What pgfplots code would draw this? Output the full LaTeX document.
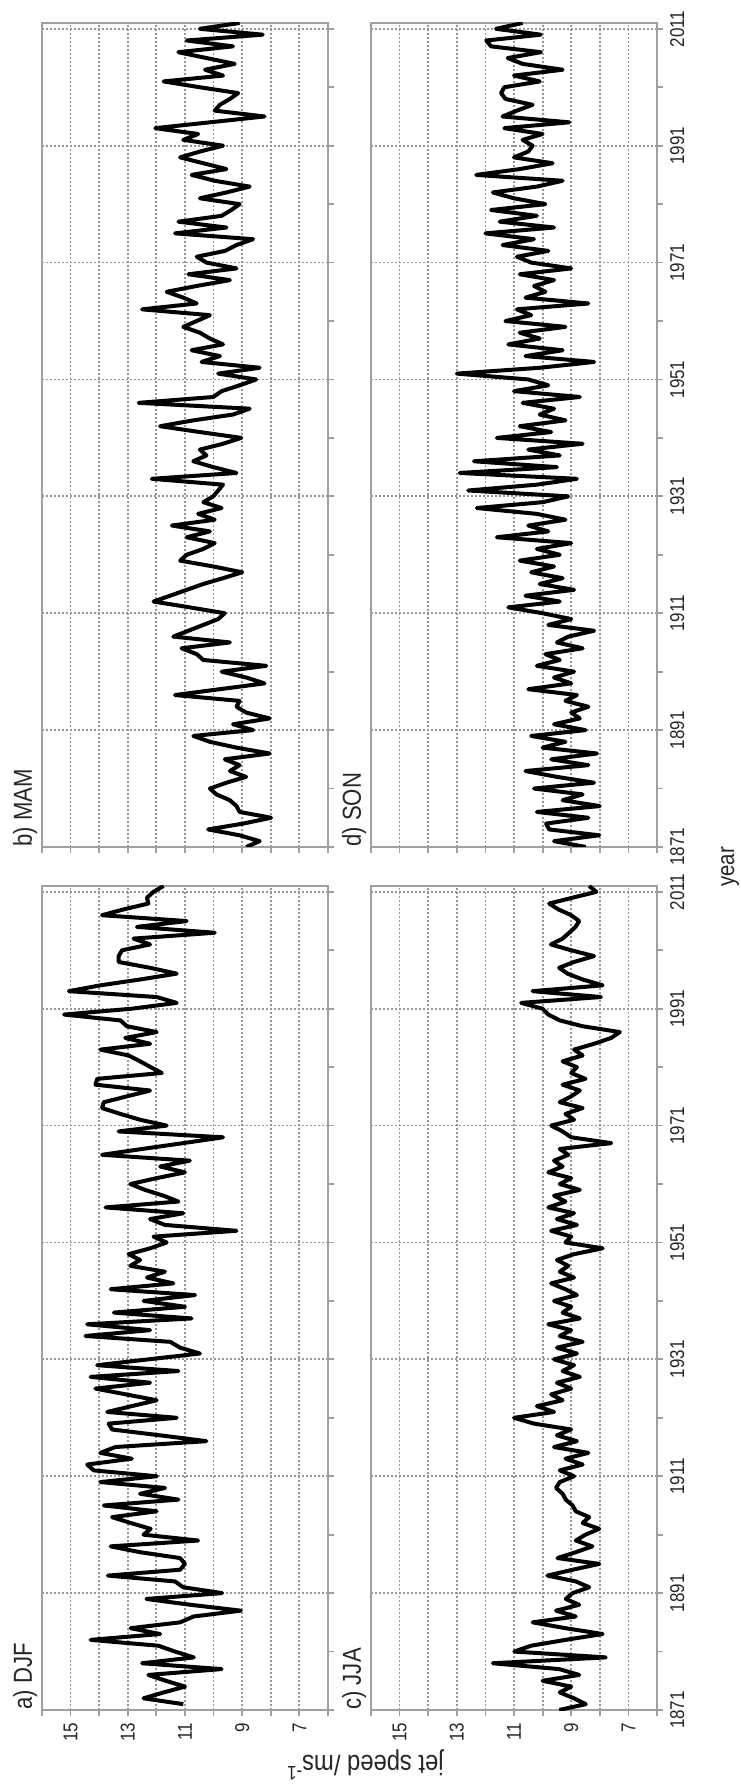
\documentclass[border=0pt]{standalone}
\usepackage{graphicx}
\usepackage{fontspec}
\setmainfont{Liberation Sans}[FakeStretch=0.85]
\usepackage{pgfplots}
\pgfplotsset{compat=1.18}
\definecolor{axgray}{RGB}{160,160,160}
\definecolor{gridgray}{RGB}{150,150,150}
\pgfplotsset{
  jet/.style={
    scale only axis, width=412pt, height=143pt,
    anchor=south west,
    xmin=1871, xmax=2012, ymin=6, ymax=16,
    xtick={1871,1891,...,2011}, minor xtick={1881,1901,...,2001},
    ytick={7,9,11,13,15}, minor ytick={6,8,...,16},
    xmajorgrids, ymajorgrids, yminorgrids,
    major grid style={gridgray, line width=0.9pt, dash pattern=on 0.9pt off 1.1pt},
    minor grid style={gridgray, line width=0.9pt, dash pattern=on 0.9pt off 1.1pt},
    axis line style={axgray, line width=1.1pt},
    tick style={axgray, line width=0.9pt},
    major tick length=3pt, minor tick length=3pt,
    tick align=outside, xtick pos=left, ytick pos=left,
    /pgf/number format/1000 sep={},
    /pgf/number format/assume math mode=true,
    tick label style={font=\fontsize{10}{12}\selectfont, text=black!85},
  },
  mean/.style={black, line width=2pt, line join=round, mark=none},
}
\begin{document}
\rotatebox{90}{%
\begin{tikzpicture}
\useasboundingbox (0,0) rectangle (893.5pt,370pt);
% a) DJF
\begin{axis}[jet, name=pa, at={(38.5pt,206pt)}, xticklabels={}]
\addplot[mean] coordinates {
(1872,11.06)(1873,12.45)(1874,11.75)(1875,11.0)(1876,11.67)(1877,12.28)(1878,9.72)(1879,12.5)(1880,10.69)(1881,11.35)
(1882,11.93)(1883,14.3)(1884,11.87)(1885,12.9)(1886,11.17)(1887,10.7)(1888,9.05)(1889,10.8)(1890,12.35)(1891,9.7)
(1892,11.06)(1893,11.35)(1894,13.7)(1895,11.17)(1896,11.0)(1897,11.17)(1898,12.57)(1899,13.6)(1900,10.54)(1901,12.45)
(1902,12.2)(1903,12.9)(1904,13.55)(1905,11.99)(1906,13.84)(1907,11.23)(1908,12.57)(1909,11.7)(1910,13.96)(1911,11.99)
(1912,14.19)(1913,14.42)(1914,12.86)(1915,13.96)(1916,13.43)(1917,10.25)(1918,11.87)(1919,13.55)(1920,13.67)(1921,11.29)
(1922,13.72)(1923,12.86)(1924,11.99)(1925,13.06)(1926,14.13)(1927,12.22)(1928,14.3)(1929,11.23)(1930,14.07)(1931,12.28)
(1932,10.48)(1933,11.17)(1934,11.52)(1935,14.48)(1936,12.22)(1937,14.42)(1938,10.77)(1939,13.49)(1940,11.0)(1941,12.45)
(1942,10.65)(1943,13.6)(1944,11.41)(1945,12.33)(1946,11.7)(1947,12.91)(1948,12.57)(1949,12.97)(1950,12.22)(1951,11.64)
(1952,12.1)(1953,9.2)(1954,11.7)(1955,12.22)(1956,11.06)(1957,13.78)(1958,11.23)(1959,11.75)(1960,12.4)(1961,12.91)
(1962,12.0)(1963,11.0)(1964,11.87)(1965,10.83)(1966,13.9)(1967,12.5)(1968,11.06)(1969,9.67)(1970,13.32)(1971,11.64)
(1972,12.57)(1973,13.26)(1974,13.9)(1975,13.84)(1976,13.03)(1977,12.22)(1978,14.13)(1979,14.07)(1980,11.81)(1981,12.2)
(1982,12.57)(1983,12.97)(1984,13.96)(1985,12.22)(1986,13.09)(1987,11.99)(1988,13.03)(1989,13.26)(1990,15.23)(1991,12.86)
(1992,11.29)(1993,11.99)(1994,15.06)(1995,13.96)(1996,12.57)(1997,11.29)(1998,12.22)(1999,13.32)(2000,13.32)(2001,13.2)
(2002,12.22)(2003,12.8)(2004,9.96)(2005,12.68)(2006,10.94)(2007,13.9)(2008,13.14)(2009,12.28)(2010,12.33)(2011,12.1)
(2012,11.75)
};
\end{axis}
% b) MAM
\begin{axis}[jet, name=pb, at={(470pt,206pt)}, xticklabels={}, yticklabels={}]
\addplot[mean] coordinates {
(1871,8.86)(1872,8.39)(1873,9.09)(1874,10.19)(1875,8.97)(1876,7.99)(1877,9.09)(1878,9.2)(1879,9.43)(1880,9.9)
(1881,10.13)(1882,9.55)(1883,8.86)(1884,9.43)(1885,9.09)(1886,9.61)(1887,8.04)(1888,9.2)(1889,10.13)(1890,10.71)
(1891,8.62)(1892,9.32)(1893,8.04)(1894,8.86)(1895,9.2)(1896,9.09)(1897,11.35)(1898,9.78)(1899,8.22)(1900,8.86)
(1901,9.72)(1902,8.16)(1903,10.36)(1904,10.59)(1905,11.12)(1906,9.43)(1907,11.41)(1908,10.88)(1909,10.36)(1910,9.84)
(1911,9.61)(1912,10.83)(1913,12.1)(1914,11.52)(1915,10.94)(1916,10.36)(1917,9.67)(1918,9.0)(1919,10.01)(1920,11.17)
(1921,10.94)(1922,10.36)(1923,9.96)(1924,10.94)(1925,10.13)(1926,11.46)(1927,9.96)(1928,10.54)(1929,9.72)(1930,10.36)
(1931,10.01)(1932,9.84)(1933,9.67)(1934,12.16)(1935,9.2)(1936,10.01)(1937,10.71)(1938,10.25)(1939,10.48)(1940,9.67)
(1941,9.03)(1942,10.48)(1943,11.87)(1944,10.71)(1945,9.32)(1946,8.74)(1947,12.62)(1948,10.01)(1949,9.72)(1950,9.09)
(1951,8.51)(1952,9.84)(1953,8.39)(1954,10.42)(1955,9.78)(1956,10.77)(1957,9.67)(1958,10.13)(1959,10.48)(1960,11.06)
(1961,10.59)(1962,10.13)(1963,12.5)(1964,10.59)(1965,11.06)(1966,11.64)(1967,10.59)(1968,9.43)(1969,10.88)(1970,9.2)
(1971,10.25)(1972,10.59)(1973,9.6)(1974,9.2)(1975,8.62)(1976,11.35)(1977,9.55)(1978,11.23)(1979,9.72)(1980,9.38)
(1981,9.09)(1982,10.48)(1983,9.55)(1984,8.74)(1985,9.96)(1986,10.77)(1987,9.55)(1988,10.36)(1989,11.17)(1990,10.48)
(1991,9.67)(1992,11.06)(1993,10.54)(1994,12.04)(1995,10.13)(1996,8.22)(1997,9.96)(1998,9.78)(1999,9.43)(2000,9.14)
(2001,10.48)(2002,11.75)(2003,9.67)(2004,10.3)(2005,9.26)(2006,10.25)(2007,11.23)(2008,9.32)(2009,10.94)(2010,8.28)
(2011,10.48)(2012,9.09)
};
\end{axis}
% c) JJA
\begin{axis}[jet, name=pc, at={(38.5pt,41.5pt)}]
\addplot[mean] coordinates {
(1871,9.42)(1872,8.49)(1873,8.9)(1874,9.4)(1875,9.0)(1876,10.0)(1877,8.72)(1878,9.42)(1879,11.74)(1880,7.79)
(1881,10.99)(1882,10.4)(1883,9.2)(1884,7.9)(1885,9.2)(1886,10.35)(1887,8.84)(1888,9.53)(1889,8.72)(1890,9.19)
(1891,8.95)(1892,8.37)(1893,8.84)(1894,9.83)(1895,8.95)(1896,8.02)(1897,9.48)(1898,8.84)(1899,8.26)(1900,8.84)
(1901,8.5)(1902,8.02)(1903,8.6)(1904,8.37)(1905,8.84)(1906,8.95)(1907,9.19)(1908,9.3)(1909,9.53)(1910,9.4)
(1911,8.9)(1912,9.4)(1913,8.6)(1914,9.2)(1915,8.4)(1916,9.6)(1917,8.8)(1918,9.5)(1919,9.0)(1920,10.3)
(1921,11.0)(1922,9.6)(1923,10.2)(1924,9.3)(1925,9.7)(1926,9.0)(1927,9.5)(1928,8.7)(1929,9.3)(1930,8.9)
(1931,9.6)(1932,8.8)(1933,9.5)(1934,8.6)(1935,9.4)(1936,9.0)(1937,9.8)(1938,8.7)(1939,9.3)(1940,9.0)
(1941,9.6)(1942,8.8)(1943,9.2)(1944,9.7)(1945,8.9)(1946,9.4)(1947,9.1)(1948,9.5)(1949,8.9)(1950,7.9)
(1951,9.2)(1952,9.0)(1953,9.7)(1954,8.8)(1955,9.5)(1956,8.9)(1957,9.8)(1958,9.2)(1959,9.6)(1960,8.7)
(1961,9.4)(1962,9.0)(1963,9.8)(1964,9.3)(1965,9.6)(1966,9.1)(1967,9.4)(1968,7.6)(1969,9.0)(1970,9.3)
(1971,9.7)(1972,8.9)(1973,9.2)(1974,8.6)(1975,9.4)(1976,9.0)(1977,8.7)(1978,9.3)(1979,8.5)(1980,9.0)
(1981,8.8)(1982,9.3)(1983,8.6)(1984,8.9)(1985,8.2)(1986,7.6)(1987,7.3)(1988,8.6)(1989,9.4)(1990,9.8)
(1991,10.0)(1992,10.75)(1993,7.96)(1994,10.35)(1995,7.9)(1996,8.6)(1997,9.13)(1998,9.42)(1999,8.9)(2000,8.2)
(2001,9.0)(2002,9.71)(2003,9.3)(2004,9.07)(2005,8.85)(2006,8.72)(2007,9.0)(2008,9.45)(2009,9.77)(2010,8.95)
(2011,8.12)(2012,8.37)
};
\end{axis}
% d) SON
\begin{axis}[jet, name=pd, at={(470pt,41.5pt)}, yticklabels={}]
\addplot[mean] coordinates {
(1871,8.49)(1872,9.6)(1873,8.02)(1874,9.77)(1875,9.88)(1876,8.4)(1877,10.2)(1878,8.0)(1879,9.3)(1880,8.6)
(1881,10.3)(1882,8.2)(1883,9.5)(1884,10.6)(1885,8.4)(1886,9.7)(1887,8.1)(1888,10.0)(1889,9.2)(1890,10.4)
(1891,8.5)(1892,9.6)(1893,8.7)(1894,9.0)(1895,8.4)(1896,9.2)(1897,8.8)(1898,10.5)(1899,9.0)(1900,9.6)
(1901,8.9)(1902,10.2)(1903,9.4)(1904,9.9)(1905,8.6)(1906,9.5)(1907,9.1)(1908,8.2)(1909,9.8)(1910,9.0)
(1911,10.0)(1912,11.2)(1913,9.4)(1914,10.6)(1915,8.9)(1916,10.1)(1917,9.3)(1918,10.4)(1919,9.6)(1920,10.8)
(1921,9.4)(1922,10.2)(1923,9.0)(1924,11.6)(1925,9.8)(1926,10.5)(1927,9.2)(1928,10.2)(1929,12.3)(1930,10.0)
(1931,9.1)(1932,12.6)(1933,10.2)(1934,8.8)(1935,12.9)(1936,9.5)(1937,12.4)(1938,9.4)(1939,10.5)(1940,8.6)
(1941,11.6)(1942,9.7)(1943,10.8)(1944,9.2)(1945,10.1)(1946,9.6)(1947,10.7)(1948,8.7)(1949,11.0)(1950,9.8)
(1951,10.5)(1952,13.0)(1953,10.1)(1954,8.2)(1955,10.6)(1956,9.3)(1957,11.2)(1958,10.1)(1959,10.8)(1960,9.2)
(1961,11.3)(1962,10.4)(1963,10.9)(1964,8.4)(1965,10.6)(1966,9.9)(1967,10.3)(1968,9.6)(1969,10.8)(1970,9.0)
(1971,10.4)(1972,10.9)(1973,9.8)(1974,11.4)(1975,10.3)(1976,12.0)(1977,9.6)(1978,11.5)(1979,10.2)(1980,11.8)
(1981,9.9)(1982,11.0)(1983,11.74)(1984,10.2)(1985,9.3)(1986,12.32)(1987,10.8)(1988,9.65)(1989,11.0)(1990,10.5)
(1991,10.35)(1992,10.7)(1993,10.0)(1994,11.34)(1995,9.07)(1996,11.4)(1997,10.9)(1998,10.35)(1999,11.3)(2000,11.45)
(2001,11.34)(2002,10.1)(2003,11.0)(2004,9.3)(2005,10.7)(2006,11.22)(2007,10.06)(2008,11.8)(2009,11.97)(2010,10.06)
(2011,11.63)(2012,10.7)
};
\end{axis}
\foreach \p/\t in {pa/a) DJF, pb/b) MAM, pc/c) JJA, pd/d) SON}
  \node[anchor=base west, inner sep=0pt, font=\fontsize{13}{15}\selectfont, text=black!85]
    at ([yshift=5pt]\p.north west) {\t};
\node[anchor=base, font=\fontsize{12}{14}\selectfont, text=black!85] at (460pt,3pt) {year};
\node[rotate=90, font=\fontsize{14}{16}\selectfont, text=black!85] at (11pt,187.5pt) {jet speed /ms\textsuperscript{-1}};
\end{tikzpicture}}
\end{document}
